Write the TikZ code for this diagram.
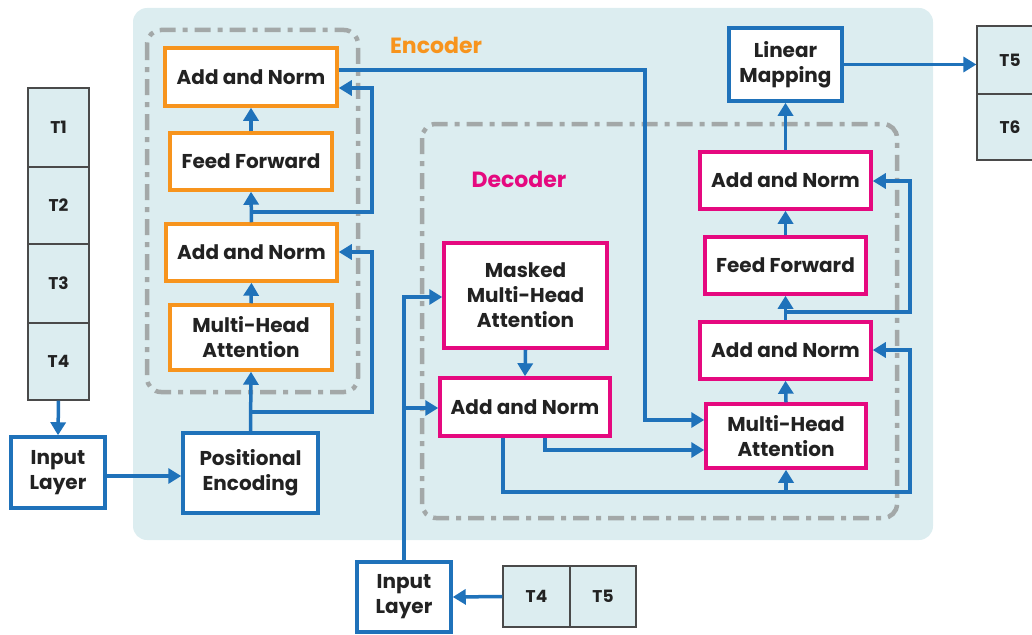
\documentclass[tikz,border=0pt]{standalone}
\usepackage{fontspec}
\setmainfont{Poppins}
\usetikzlibrary{arrows.meta}
\definecolor{bg}{HTML}{DCEDF0}
\definecolor{ablue}{HTML}{1F72BA}
\definecolor{orng}{HTML}{F7941D}
\definecolor{mag}{HTML}{E5097F}
\definecolor{dgray}{HTML}{A3A8A8}
\definecolor{tgray}{HTML}{4A4A4A}
\definecolor{txt}{HTML}{222222}
\begin{document}
\begin{tikzpicture}[x=1pt,y=-1pt,
 box/.style={draw, fill=white, line width=3.5pt, align=center, inner sep=0pt, font=\fontsize{20}{25}\selectfont\bfseries, text=txt},
 ebox/.style={box, draw=orng},
 dbox/.style={box, draw=mag},
 bbox/.style={box, draw=ablue},
 arr/.style={draw=ablue, line width=3.5pt, -{Triangle[length=13pt,width=15pt]}},
 frame/.style={draw=dgray, line width=4.5pt, rounded corners=14pt, dash pattern=on 16pt off 7pt on 5pt off 7pt},
 tok/.style={draw=tgray, fill=bg, line width=1.2pt, inner sep=0pt, font=\fontsize{17}{20}\selectfont\bfseries, text=txt},
 lab/.style={font=\fontsize{22}{24}\selectfont\bfseries}]
\useasboundingbox (0,0) rectangle (1032,634);
\fill[bg, rounded corners=14pt] (133,8) rectangle (933,540);
\draw[frame] (147,30) rectangle (358,392);
\draw[frame] (422,124) rectangle (897,518);
\node[lab, text=orng] (enc) at (436,45) {Encoder};
\node[lab, text=mag] (dec) at (519,179) {Decoder};
% encoder
\node[ebox, minimum width=172pt, minimum height=58pt] (ean1) at (251,77) {Add and Norm};
\node[ebox, minimum width=162pt, minimum height=57pt] (eff) at (251,161.5) {Feed Forward};
\node[ebox, minimum width=171pt, minimum height=57pt] (ean2) at (251.5,252.5) {Add and Norm};
\node[ebox, minimum width=162pt, minimum height=65pt] (emha) at (251,337.5) {Multi-Head\\Attention};
\node[bbox, minimum width=135pt, minimum height=80pt] (pe) at (250.5,473) {Positional\\Encoding};
\node[bbox, minimum width=94pt, minimum height=71pt] (in1) at (58,472.5) {Input\\Layer};
% tokens left
\node[tok, minimum width=61pt, minimum height=79pt] (t1) at (58.5,127.5) {T1};
\node[tok, minimum width=61pt, minimum height=77pt] (t2) at (58.5,205.5) {T2};
\node[tok, minimum width=61pt, minimum height=79pt] (t3) at (58.5,283.5) {T3};
\node[tok, minimum width=61pt, minimum height=77pt] (t4) at (58.5,361.5) {T4};
% decoder
\node[dbox, minimum width=163pt, minimum height=105pt] (mmha) at (525.5,295.5) {Masked\\Multi-Head\\Attention};
\node[dbox, minimum width=170pt, minimum height=58pt] (dan1) at (525,407) {Add and Norm};
\node[dbox, minimum width=160pt, minimum height=64pt] (dmha) at (786,436) {Multi-Head\\Attention};
\node[dbox, minimum width=171pt, minimum height=57pt] (dan2) at (785.5,350.5) {Add and Norm};
\node[dbox, minimum width=161pt, minimum height=57pt] (dff) at (785.5,265.5) {Feed Forward};
\node[dbox, minimum width=171pt, minimum height=57pt] (dan3) at (785.5,180.5) {Add and Norm};
\node[bbox, minimum width=113pt, minimum height=73pt] (lm) at (785.5,64.5) {Linear\\Mapping};
\node[bbox, minimum width=94pt, minimum height=70pt] (in2) at (404,597) {Input\\Layer};
% tokens bottom and right
\node[tok, minimum width=67pt, minimum height=61pt] (b4) at (536.5,596.5) {T4};
\node[tok, minimum width=66pt, minimum height=61pt] (b5) at (603,596.5) {T5};
\node[tok, minimum width=66pt, minimum height=68pt] (o5) at (1010,60) {T5};
\node[tok, minimum width=66pt, minimum height=66pt] (o6) at (1010,127) {T6};
% encoder arrows
\draw[arr] (t4.south) -- (in1.north);
\draw[arr] (in1.east |- 0,476) -- (pe.west |- 0,476);
\draw[arr] (pe.north) -- (emha.south);
\draw[arr] (emha.north) -- (ean2.south);
\draw[arr] (ean2.north) -- (eff.south);
\draw[arr] (eff.north) -- (ean1.south);
\coordinate (r1) at (251,412);
\draw[arr] (r1) -- (372,412) -- (372,252) -- (ean2.east |- 0,252);
\coordinate (r2) at (251,212);
\draw[arr] (r2) -- (372,212) -- (372,88) -- (ean1.east |- 0,88);
\draw[arr] (ean1.east |- 0,70) -- (645,70) -- (645,420) -- (dmha.west |- 0,420);
% decoder arrows
\draw[arr] (b4.west) -- (in2.east);
\draw[arr] (in2.north) -- (404,297) -- (mmha.west |- 0,297);
\coordinate (r3) at (404,408);
\draw[arr] (r3) -- (dan1.west |- 0,408);
\draw[arr] (mmha.south) -- (dan1.north);
\draw[arr] (dan1.south -| 545,0) -- (545,450) -- (dmha.west |- 0,450);
\draw[arr] (dan1.south -| 503,0) -- (503,492) -- (910,492) -- (910,350) -- (dan2.east |- 0,350);
\coordinate (r4) at (786,492);
\draw[arr] (r4) -- (dmha.south);
\draw[arr] (dmha.north) -- (dan2.south);
\draw[arr] (dan2.north) -- (dff.south);
\coordinate (r5) at (786,312);
\draw[arr] (r5) -- (910,312) -- (910,181) -- (dan3.east |- 0,181);
\draw[arr] (dff.north) -- (dan3.south);
\draw[arr] (dan3.north) -- (lm.south);
\draw[arr] (lm.east) -- (o5.west |- lm.east);
\end{tikzpicture}
\end{document}
